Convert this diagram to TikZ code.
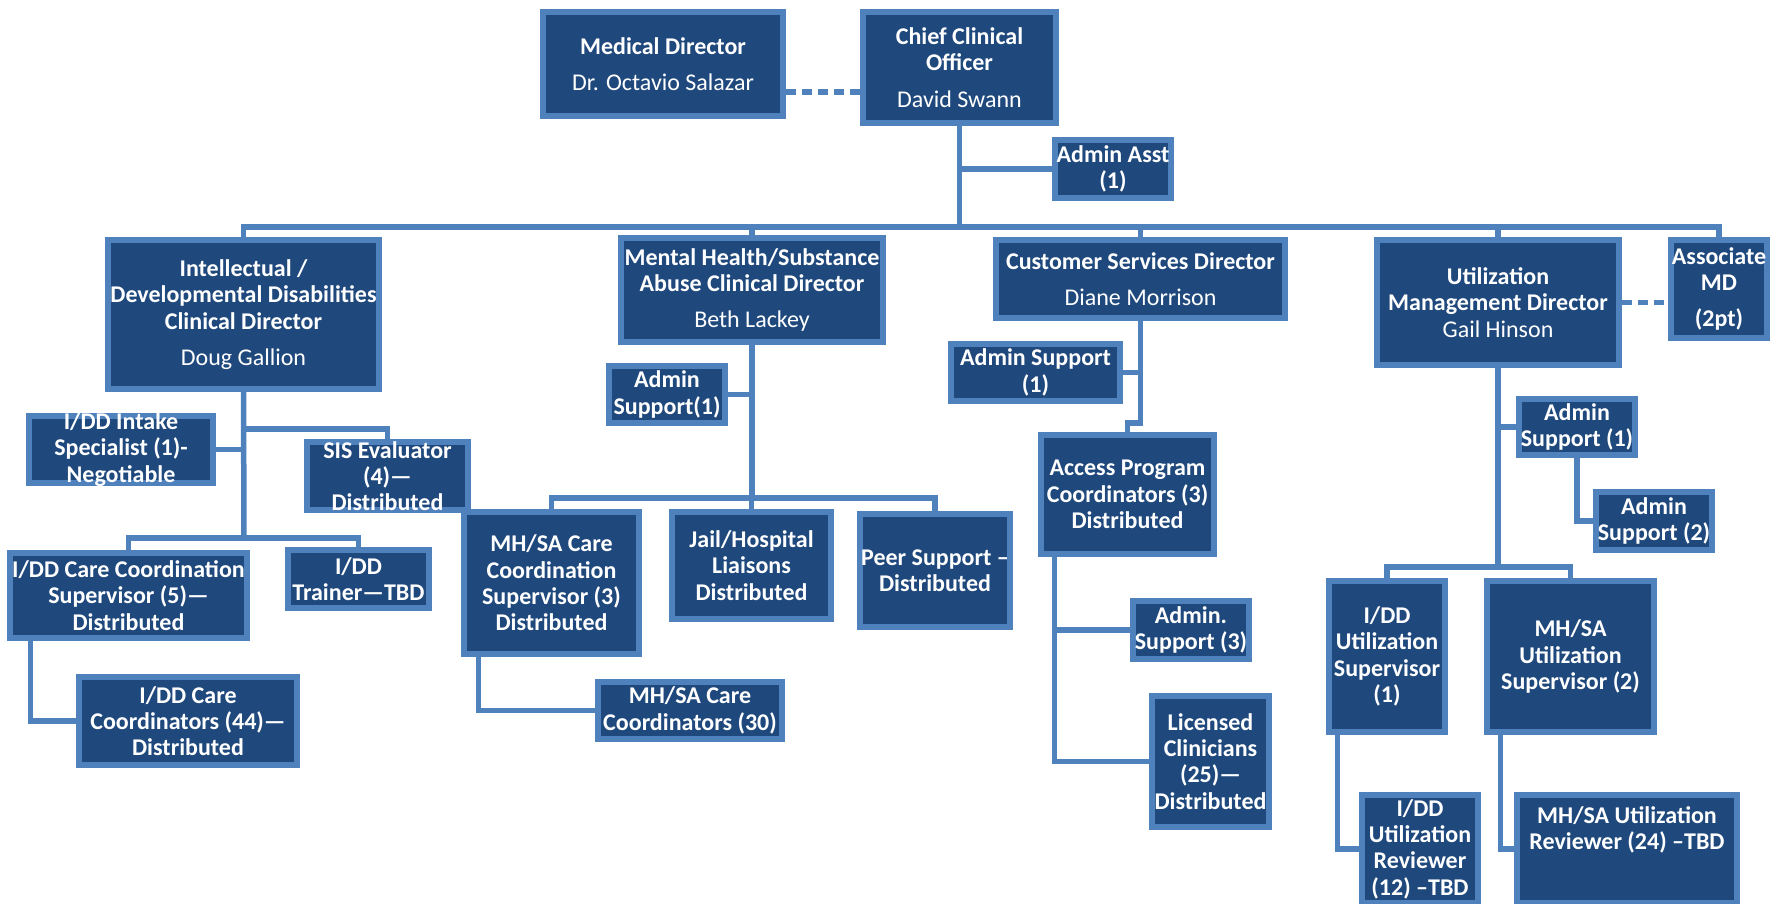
\documentclass[tikz,border=0pt]{standalone}
\usepackage{fontspec}
\setmainfont{Carlito}
\usetikzlibrary{fit,backgrounds}
\definecolor{boxfill}{HTML}{1F497D}
\definecolor{boxline}{HTML}{4F81BD}
\begin{document}
\begin{tikzpicture}[x=0.5pt,y=-0.5pt,
  lbl/.style={inner sep=0pt, text=white, align=center, font=\fontsize{12}{13.15}\selectfont\bfseries},
  box/.style={draw=boxline, fill=boxfill, line width=2.75pt, inner sep=0pt},
  txt/.style={label={[lbl]center:{#1}}},
  conn/.style={draw=boxline, line width=2.75pt},
  dconn/.style={conn, dash pattern=on 5pt off 3pt}]
\useasboundingbox (0,0) rectangle (1787,904);
\clip (0,0) rectangle (1787,904);

% top level
\node[box, fit={(543,12) (783,116)}, txt={Medical Director\\[5pt]{\mdseries Dr. Octavio Salazar}}] (meddir) {};
\node[box, fit={(863,12) (1056,123)}, txt={Chief Clinical\\Officer\\[5pt]{\mdseries David Swann}}] (cco) {};
\node[box, fit={(1055,140) (1171,198)}, txt={Admin Asst\\(1)}] (asst) {};

% directors
\node[box, fit={(108,240) (379,389)}, txt={Intellectual /\\Developmental Disabilities\\Clinical Director\\[5pt]{\mdseries Doug Gallion}}] (idd) {};
\node[box, fit={(621,238) (883,342)}, txt={Mental Health/Substance\\Abuse Clinical Director\\[5pt]{\mdseries Beth Lackey}}] (mhsa) {};
\node[box, fit={(996,240) (1285,318)}, txt={Customer Services Director\\[5pt]{\mdseries Diane Morrison}}] (cs) {};
\node[box, fit={(1377,240) (1619,365)}, txt={Utilization\\Management Director\\{\mdseries Gail Hinson}}] (um) {};
\node[box, fit={(1671,240) (1767,338)}, txt={Associate\\MD\\[5pt](2pt)}] (amd) {};

% I/DD branch
\node[box, fit={(29,416) (213,483)}, txt={I/DD Intake\\Specialist (1)-\\Negotiable}] (intake) {};
\node[box, fit={(307,442) (468,510)}, txt={SIS Evaluator\\(4)—\\Distributed}] (sis) {};
\node[box, fit={(10,553) (247,638)}, txt={I/DD Care Coordination\\Supervisor (5)—\\Distributed}] (iddccs) {};
\node[box, fit={(288,550) (429,608)}, txt={I/DD\\Trainer—TBD}] (trainer) {};
\node[box, fit={(79,677) (297,765)}, txt={I/DD Care\\Coordinators (44)—\\Distributed}] (iddcc) {};

% MH/SA branch
\node[box, fit={(609,366) (725,423)}, txt={Admin\\Support(1)}] (mhadm) {};
\node[box, fit={(464,512) (639,654)}, txt={MH/SA Care\\Coordination\\Supervisor (3)\\Distributed}] (mhccs) {};
\node[box, fit={(672,512) (831,619)}, txt={Jail/Hospital\\Liaisons\\Distributed}] (jail) {};
\node[box, fit={(860,514) (1010,627)}, txt={Peer Support –\\Distributed}] (peer) {};
\node[box, fit={(598,682) (782,739)}, txt={MH/SA Care\\Coordinators (30)}] (mhcc) {};

% Customer services branch
\node[box, fit={(951,344) (1120,401)}, txt={Admin Support\\(1)}] (csadm) {};
\node[box, fit={(1041,435) (1214,554)}, txt={Access Program\\Coordinators (3)\\Distributed}] (access) {};
\node[box, fit={(1133,601) (1249,659)}, txt={Admin.\\Support (3)}] (adm3) {};
\node[box, fit={(1152,696) (1269,827)}, txt={Licensed\\Clinicians\\(25)—\\Distributed}] (lic) {};

% Utilization branch
\node[box, fit={(1519,399) (1635,455)}, txt={Admin\\Support (1)}] (umadm1) {};
\node[box, fit={(1596,492) (1712,550)}, txt={Admin\\Support (2)}] (umadm2) {};
\node[box, fit={(1329,581) (1445,732)}, txt={I/DD\\Utilization\\Supervisor\\(1)}] (iddus) {};
\node[box, fit={(1487,581) (1654,732)}, txt={MH/SA\\Utilization\\Supervisor (2)}] (mhus) {};
\node[box, fit={(1362,795) (1478,903)}, txt={I/DD\\Utilization\\Reviewer\\(12) –TBD}] (iddur) {};
\node[box, fit={(1517,795) (1737,903)}] (mhur) {};
\node[lbl] (mhurt) at (1627,830) {MH/SA Utilization\\Reviewer (24) –TBD};

\coordinate (busL) at (243,227);
\coordinate (iddbus) at (244,538);
\coordinate (sisj) at (244,429);
\coordinate (mhbus) at (752,498);
\coordinate (csj) at (1140,423);
\coordinate (umbus) at (1498,567);

\begin{scope}[on background layer]
% top
\draw[dconn] ([yshift=-14pt]meddir.east) -- ([yshift=-14pt]meddir.east -| cco.west);
\draw[conn] (cco.south) -- (cco.south |- busL);
\draw[conn] (cco.south |- asst.west) -- (asst.west);
\draw[conn] (idd.north) -- (idd.north |- busL) -- (amd.north |- busL) -- (amd.north);
\draw[conn] (mhsa.north) -- (mhsa.north |- busL);
\draw[conn] (cs.north) -- (cs.north |- busL);
\draw[conn] (um.north) -- (um.north |- busL);
\draw[dconn] (um.east) -- (um.east -| amd.west);
% I/DD
\draw[conn] (idd.south) -- (iddbus);
\draw[conn] (idd.south |- intake.east) -- (intake.east);
\draw[conn] (sisj) -- (sisj -| sis.north) -- (sis.north);
\draw[conn] (iddccs.north) -- (iddccs.north |- iddbus) -- (trainer.north |- iddbus) -- (trainer.north);
\draw[conn] ([xshift=11.5pt]iddccs.south west) |- (iddcc.west);
% MH/SA
\draw[conn] (mhsa.south) -- (mhbus);
\draw[conn] (mhsa.south |- mhadm.east) -- (mhadm.east);
\draw[conn] (mhccs.north) -- (mhccs.north |- mhbus) -- (peer.north |- mhbus) -- (peer.north);
\draw[conn] (jail.north) -- (jail.north |- mhbus);
\draw[conn] ([xshift=8.5pt]mhccs.south west) |- (mhcc.west);
% Customer services
\draw[conn] (cs.south) -- (cs.south |- csj) -- (access.north |- csj) -- (access.north);
\draw[conn] (cs.south |- csadm.east) -- (csadm.east);
\draw[conn] ([xshift=8pt]access.south west) |- (lic.west);
\draw[conn] ([xshift=8pt]access.south west |- adm3.west) -- (adm3.west);
% Utilization
\draw[conn] (um.south) -- (umbus);
\draw[conn] (um.south |- umadm1.west) -- (umadm1.west);
\draw[conn] (umadm1.south) |- (umadm2.west);
\draw[conn] (iddus.north) -- (iddus.north |- umbus) -- (mhus.north |- umbus) -- (mhus.north);
\draw[conn] ([xshift=5.5pt]iddus.south west) |- (iddur.west);
\draw[conn] ([xshift=8pt]mhus.south west) |- (mhur.west);
\end{scope}
\end{tikzpicture}
\end{document}
